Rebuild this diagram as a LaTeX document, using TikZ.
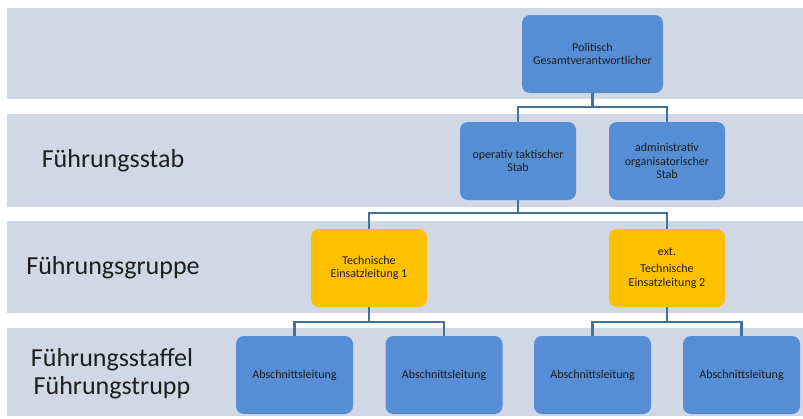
\documentclass[tikz,border=0pt]{standalone}
\usepackage{fontspec}
\setmainfont{Carlito}
\begin{document}
\begin{tikzpicture}[x=1pt,y=-1pt,
  band/.style={fill=bandfill,draw=none},
  unit/.style={rounded corners=8pt,fill=boxblue,draw=none,minimum width=116pt,minimum height=78pt,
    align=center,font=\fontsize{12}{13.5}\selectfont,text=textdark,inner sep=2pt},
  tel/.style={unit,fill=boxyellow},
  level/.style={font=\fontsize{26}{28}\selectfont,text=textdark,align=center},
  conn/.style={draw=linkblue,line width=2.3pt}]
\definecolor{bandfill}{HTML}{D0D8E6}
\definecolor{boxblue}{HTML}{558ED5}
\definecolor{boxyellow}{HTML}{FFC000}
\definecolor{linkblue}{HTML}{41719C}
\definecolor{textdark}{HTML}{1E1E1E}
\useasboundingbox (0,0) rectangle (803,418);
\fill[white] (0,0) rectangle (803,418);

% horizontal level bands
\fill[band] (7,8) rectangle (803,99);
\fill[band] (7,114) rectangle (803,207);
\fill[band] (7,221) rectangle (803,313);
\fill[band] (7,328) rectangle (803,416);

% level names
\node[level] (l1) at (113,161) {Führungsstab};
\node[level] (l2) at (113,268) {Führungsgruppe};
\node[level] (l3) at (112,374) {Führungsstaffel\\Führungstrupp};

% bus heights
\coordinate (bus1) at (0,107);
\coordinate (bus2) at (0,213);
\coordinate (bus3) at (0,322);

% units
\node[unit,minimum width=141pt] (pg) at (592.5,54) {Politisch\\Gesamtverantwortlicher};
\node[unit] (ots) at (518,161) {operativ taktischer\\Stab};
\node[unit] (aos) at (667,161) {administrativ\\organisatorischer\\Stab};
\node[tel] (te1) at (369,268) {Technische\\Einsatzleitung 1};
\node[tel] (te2) at (667,268) {ext.\\[4pt]Technische\\Einsatzleitung 2};
\node[unit,minimum width=117pt] (a1) at (294.5,375) {Abschnittsleitung};
\node[unit,minimum width=117pt] (a2) at (444,375) {Abschnittsleitung};
\node[unit,minimum width=117pt] (a3) at (592.5,375) {Abschnittsleitung};
\node[unit,minimum width=117pt] (a4) at (741.5,375) {Abschnittsleitung};

% connectors
\draw[conn] (pg.south) -- (pg.south |- bus1) -| (ots.north);
\draw[conn] (pg.south |- bus1) -| (aos.north);
\draw[conn] (ots.south) -- (ots.south |- bus2) -| (te1.north);
\draw[conn] (ots.south |- bus2) -| (te2.north);
\draw[conn] (te1.south) -- (te1.south |- bus3) -| (a1.north);
\draw[conn] (te1.south |- bus3) -| (a2.north);
\draw[conn] (te2.south) -- (te2.south |- bus3) -| (a3.north);
\draw[conn] (te2.south |- bus3) -| (a4.north);
\end{tikzpicture}
\end{document}
